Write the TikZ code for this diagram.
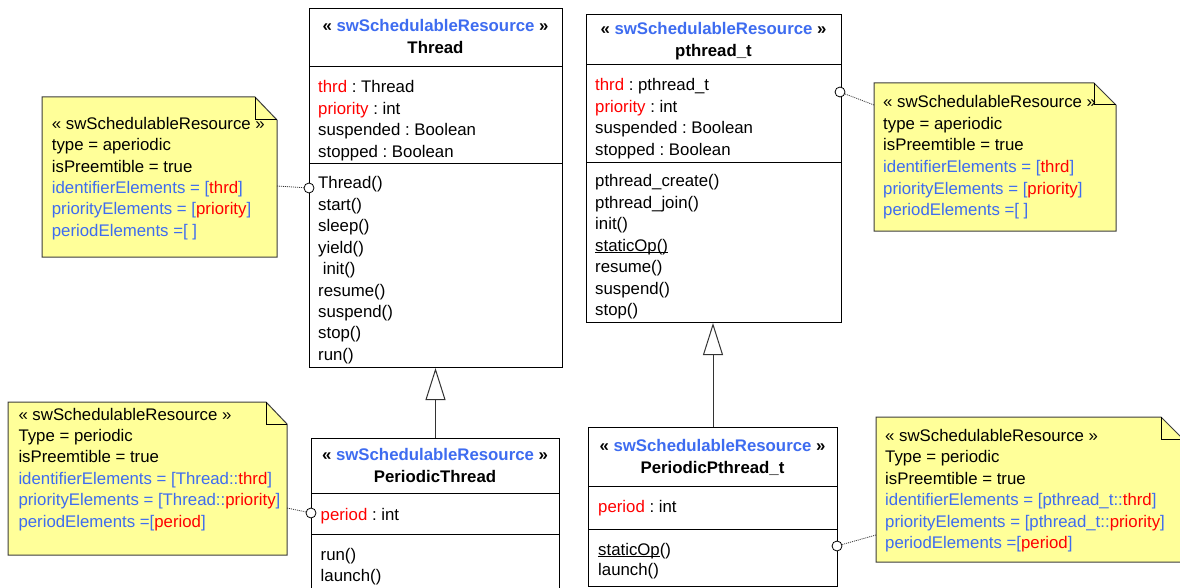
\documentclass[tikz,border=0pt]{standalone}
\usepackage{fontspec}
\setmainfont{Liberation Sans}
\usetikzlibrary{arrows.meta}
\definecolor{umlblue}{RGB}{62,108,240}
\definecolor{umlred}{RGB}{255,0,0}
\definecolor{notefill}{RGB}{255,255,153}
\definecolor{noteline}{RGB}{60,60,60}
\newcommand\rd[1]{\textcolor{umlred}{#1}}
\newcommand\bl[1]{\textcolor{umlblue}{#1}}
\newcommand\ulx[1]{\setbox0\hbox{#1}\rlap{\rule[-2pt]{\wd0}{0.8pt}}\box0}
\frenchspacing
\begin{document}
\frenchspacing
\begin{tikzpicture}[x=1pt,y=-1pt,
  every node/.style={font=\fontsize{16.8}{21.4}\selectfont\frenchspacing},
  box/.style={draw=black,line width=1pt,fill=white,inner sep=0pt,anchor=north west},
  sep/.style={draw=black,line width=1pt},
  txt/.style={inner sep=0pt,anchor=base west},
  hdr/.style={inner sep=0pt,anchor=base,font=\fontsize{16.8}{21.4}\selectfont\bfseries},
  notebox/.style={draw=noteline,line width=1pt,fill=notefill},
  fold/.style={draw=black,line width=1pt},
  port/.style={circle,draw=black,fill=white,line width=0.8pt,minimum size=10pt,inner sep=0pt},
  link/.style={draw=black!80,line width=0.8pt,dash pattern=on 1pt off 1pt},
  gen/.style={draw=black!80,line width=1pt,-{Triangle[length=32pt,width=20pt,fill=white,line width=1pt]}}
]
\useasboundingbox (0,0) rectangle (1180,588);
\clip (0,0) rectangle (1180,588);
\fill[white] (0,0) rectangle (1180,588);

% ---------- Thread ----------
\node[box,minimum width=253pt,minimum height=359pt] (thread) at (309,8) {};
\draw[sep] (309,67) -- (562,67);
\draw[sep] (309,164) -- (562,164);
\node[hdr] (th0) at (435.5,32) {« \bl{swSchedulableResource} »};
\node[hdr] (th1) at (435.5,54) {Thread};
\node[txt] (ta1) at (318,93) {\rd{thrd} : Thread};
\node[txt] (ta2) at (318,114.5) {\rd{priority} : int};
\node[txt] (ta3) at (318,136) {suspended : Boolean};
\node[txt] (ta4) at (318,157.5) {stopped : Boolean};
\node[txt] (to1) at (318,189) {Thread()};
\node[txt] (to2) at (318,210.4) {start()};
\node[txt] (to3) at (318,231.8) {sleep()};
\node[txt] (to4) at (318,253.2) {yield()};
\node[txt] (to5) at (318,274.6) {\ init()};
\node[txt] (to6) at (318,296) {resume()};
\node[txt] (to7) at (318,317.4) {suspend()};
\node[txt] (to8) at (318,338.8) {stop()};
\node[txt] (to9) at (318,360.2) {run()};

% ---------- pthread_t ----------
\node[box,minimum width=255pt,minimum height=308pt] (pthr) at (586,14) {};
\draw[sep] (586,65) -- (841,65);
\draw[sep] (586,163) -- (841,163);
\node[hdr] (pt0) at (713.5,35) {« \bl{swSchedulableResource} »};
\node[hdr] (pt1) at (713.5,57) {pthread\_t};
\node[txt] (pa1) at (595,91) {\rd{thrd} : pthread\_t};
\node[txt] (pa2) at (595,112.5) {\rd{priority} : int};
\node[txt] (pa3) at (595,134) {suspended : Boolean};
\node[txt] (pa4) at (595,155.5) {stopped : Boolean};
\node[txt] (po1) at (595,187) {pthread\_create()};
\node[txt] (po2) at (595,208.4) {pthread\_join()};
\node[txt] (po3) at (595,229.8) {init()};
\node[txt] (po4) at (595,251.2) {\ulx{staticOp()}};
\node[txt] (po5) at (595,272.6) {resume()};
\node[txt] (po6) at (595,294) {suspend()};
\node[txt] (po7) at (595,315.4) {stop()};

% ---------- PeriodicThread ----------
\node[box,minimum width=248pt,minimum height=170pt] (pth) at (311,438) {};
\draw[sep] (311,493) -- (559,493);
\draw[sep] (311,534) -- (559,534);
\node[hdr] (ph0) at (435,460) {« \bl{swSchedulableResource} »};
\node[hdr] (ph1) at (435,482) {PeriodicThread};
\node[txt] (pha1) at (320.5,520) {\rd{period} : int};
\node[txt] (pho1) at (320.5,560) {run()};
\node[txt] (pho2) at (320.5,581) {launch()};

% ---------- PeriodicPthread_t ----------
\node[box,minimum width=249pt,minimum height=159pt] (ppt) at (588,427) {};
\draw[sep] (588,486) -- (837,486);
\draw[sep] (588,529) -- (837,529);
\node[hdr] (pp0) at (712.5,451.5) {« \bl{swSchedulableResource} »};
\node[hdr] (pp1) at (712.5,473) {PeriodicPthread\_t};
\node[txt] (ppa1) at (598,512.5) {\rd{period} : int};
\node[txt] (ppo1) at (598,555) {\ulx{staticOp}()};
\node[txt] (ppo2) at (598,575.5) {launch()};

% ---------- generalizations ----------
\draw[gen] (pth.north) -- (pth.north |- thread.south);
\draw[gen] (ppt.north) -- (ppt.north |- pthr.south);

% ---------- notes ----------
% top-left
\draw[notebox] (42,97) -- (255,97) -- (277,120) -- (277,257) -- (42,257) -- cycle;
\draw[fold] (255,97) -- (255,120) -- (277,120);
\node[txt] (n1a) at (51.7,129.3) {« swSchedulableResource »};
\node[txt] (n1b) at (51.7,150.7) {type = aperiodic};
\node[txt] (n1c) at (51.7,172.1) {isPreemtible = true};
\node[txt] (n1d) at (51.7,193.5) {\bl{identifierElements = [}\rd{thrd}\bl{]}};
\node[txt] (n1e) at (51.7,214.9) {\bl{priorityElements = [}\rd{priority}\bl{]}};
\node[txt] (n1f) at (51.7,236.3) {\bl{periodElements =[ ]}};
\coordinate (n1) at (277,186);

% right
\draw[notebox] (874,83) -- (1094,83) -- (1116,105) -- (1116,231) -- (874,231) -- cycle;
\draw[fold] (1094,83) -- (1094,105) -- (1116,105);
\node[txt] (n2a) at (883,108) {« swSchedulableResource »};
\node[txt] (n2b) at (883,129.5) {type = aperiodic};
\node[txt] (n2c) at (883,151) {isPreemtible = true};
\node[txt] (n2d) at (883,172.5) {\bl{identifierElements = [}\rd{thrd}\bl{]}};
\node[txt] (n2e) at (883,194) {\bl{priorityElements = [}\rd{priority}\bl{]}};
\node[txt] (n2f) at (883,215.5) {\bl{periodElements =[ ]}};
\coordinate (n2) at (874,105);

% bottom-left
\draw[notebox] (8,402) -- (266,402) -- (287,424) -- (287,555) -- (8,555) -- cycle;
\draw[fold] (266,402) -- (266,424) -- (287,424);
\node[txt] (n3a) at (18.3,420) {« swSchedulableResource »};
\node[txt] (n3b) at (18.3,441.4) {Type = periodic};
\node[txt] (n3c) at (18.3,462.8) {isPreemtible = true};
\node[txt] (n3d) at (18.3,484.2) {\bl{identifierElements = [Thread::}\rd{thrd}\bl{]}};
\node[txt] (n3e) at (18.3,505.6) {\bl{priorityElements = [Thread::}\rd{priority}\bl{]}};
\node[txt] (n3f) at (18.3,527) {\bl{periodElements =[}\rd{period}\bl{]}};
\coordinate (n3) at (287,508);

% bottom-right
\draw[notebox] (876,417) -- (1161,417) -- (1183,439) -- (1183,562) -- (876,562) -- cycle;
\draw[fold] (1161,417) -- (1161,439) -- (1183,439);
\node[txt] (n4a) at (885,441) {« swSchedulableResource »};
\node[txt] (n4b) at (885,462.5) {Type = periodic};
\node[txt] (n4c) at (885,484) {isPreemtible = true};
\node[txt] (n4d) at (885,505.5) {\bl{identifierElements = [pthread\_t::}\rd{thrd}\bl{]}};
\node[txt] (n4e) at (885,527) {\bl{priorityElements = [pthread\_t::}\rd{priority}\bl{]}};
\node[txt] (n4f) at (885,548.5) {\bl{periodElements =[}\rd{period}\bl{]}};
\coordinate (n4) at (876,535);

% ---------- ports and links ----------
\node[port] (c1) at (309,188) {};
\node[port] (c2) at (840,92) {};
\node[port] (c3) at (311,513) {};
\node[port] (c4) at (837,546) {};
\draw[link] (n1) -- (c1);
\draw[link] (n2) -- (c2);
\draw[link] (n3) -- (c3);
\draw[link] (n4) -- (c4);
\end{tikzpicture}
\end{document}
